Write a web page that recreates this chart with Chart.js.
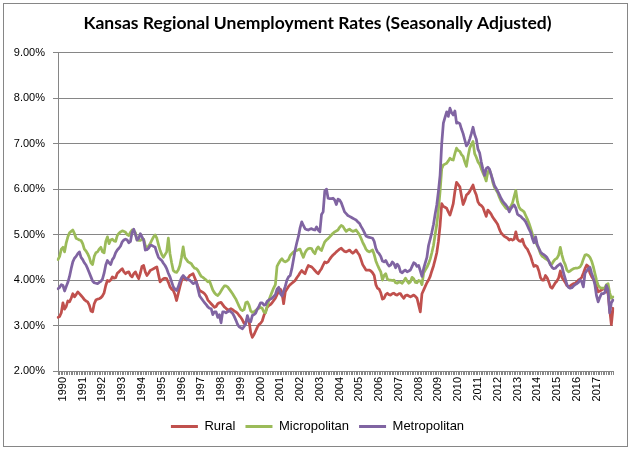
<!DOCTYPE html>
<html><head><meta charset="utf-8">
<script src="https://cdn.jsdelivr.net/npm/chart.js@4"></script>
<style>html,body{margin:0;padding:0;background:#fff}canvas{display:block}</style>
</head><body>
<canvas id="c" width="635" height="452"></canvas>
<script>
const yearLabels = ['1990','1991','1992','1993','1994','1995','1996','1997','1998','1999','2000','2001','2002','2003','2004','2005','2006','2007','2008','2009','2010','2011','2012','2013','2014','2015','2016','2017'];
const yTickLabels = ['2.00%','3.00%','4.00%','5.00%','6.00%','7.00%','8.00%','9.00%'];

const rural = [
3.18,3.2,3.28,3.5,3.36,3.42,3.54,3.52,3.6,3.7,3.63,3.68,
3.74,3.7,3.66,3.62,3.57,3.54,3.52,3.45,3.32,3.3,3.48,3.56,
3.58,3.59,3.61,3.65,3.72,3.88,3.99,3.97,4.0,4.07,4.04,4.05,
4.15,4.18,4.22,4.25,4.18,4.14,4.17,4.18,4.1,4.07,4.14,4.18,
4.1,4.03,4.15,4.3,4.32,4.18,4.1,4.15,4.21,4.23,4.25,4.27,
4.29,4.12,3.96,4.0,4.03,4.04,4.03,3.95,3.85,3.8,3.77,3.68,
3.55,3.7,3.85,3.98,4.07,4.03,4.0,4.05,4.1,4.12,4.14,4.05,
3.96,3.85,3.77,3.75,3.73,3.7,3.65,3.56,3.52,3.48,3.44,3.4,
3.42,3.48,3.5,3.51,3.46,3.41,3.38,3.34,3.35,3.37,3.35,3.32,
3.3,3.27,3.22,3.18,3.12,3.05,3.06,3.16,3.1,2.85,2.74,2.8,
2.88,2.96,3.02,3.05,3.1,3.22,3.3,3.4,3.44,3.46,3.5,3.55,
3.6,3.68,3.75,3.8,3.72,3.48,3.74,3.8,3.86,3.9,3.93,3.96,
3.99,4.05,4.1,4.16,4.21,4.17,4.14,4.24,4.32,4.3,4.29,4.25,
4.21,4.17,4.14,4.2,4.25,4.33,4.4,4.38,4.4,4.46,4.51,4.55,
4.58,4.62,4.65,4.68,4.7,4.66,4.63,4.62,4.64,4.66,4.62,4.59,
4.62,4.66,4.6,4.55,4.45,4.34,4.28,4.22,4.22,4.22,4.2,4.16,
4.1,3.9,3.82,3.8,3.72,3.58,3.6,3.68,3.71,3.68,3.67,3.7,
3.71,3.68,3.67,3.7,3.7,3.64,3.6,3.66,3.67,3.65,3.63,3.65,
3.67,3.64,3.6,3.45,3.3,3.7,3.78,3.86,3.94,4.0,4.08,4.2,
4.31,4.45,4.6,4.85,5.2,5.68,5.62,5.6,5.58,5.5,5.43,5.55,
5.68,5.95,6.15,6.1,6.05,5.85,5.66,5.75,5.87,5.9,5.95,6.02,
6.09,5.96,5.87,5.72,5.66,5.64,5.6,5.5,5.4,5.54,5.5,5.45,
5.38,5.33,5.28,5.22,5.12,5.04,5.0,4.96,4.94,4.92,4.88,4.9,
4.88,4.9,5.06,4.9,4.86,4.85,4.9,4.78,4.72,4.68,4.6,4.52,
4.4,4.3,4.32,4.3,4.2,4.05,4.0,4.0,4.1,4.05,3.96,3.85,
3.82,3.88,3.94,3.98,4.05,4.2,4.06,4.0,3.95,3.88,3.85,3.87,
3.9,3.92,3.93,3.96,4.0,4.02,4.06,4.15,4.25,4.33,4.3,4.15,
4.08,4.02,3.95,3.85,3.74,3.76,3.78,3.8,3.82,3.78,3.7,3.35,
3.02,3.38];

const micropolitan = [
4.45,4.52,4.68,4.72,4.62,4.82,4.95,5.04,5.07,5.1,5.02,4.92,
4.9,4.88,4.87,4.8,4.68,4.64,4.58,4.5,4.38,4.34,4.52,4.6,
4.62,4.68,4.72,4.62,4.6,4.85,4.95,4.8,4.88,4.9,4.86,4.85,
4.98,5.03,5.06,5.08,5.07,5.05,5.0,4.98,5.05,5.1,5.08,5.04,
4.88,4.87,4.87,4.9,4.9,4.76,4.7,4.75,4.8,4.88,4.95,4.99,
4.92,4.78,4.65,4.56,4.5,4.56,4.62,4.92,4.58,4.38,4.21,4.18,
4.17,4.22,4.32,4.5,4.73,4.5,4.45,4.4,4.38,4.36,4.3,4.26,
4.25,4.21,4.14,4.08,4.06,4.03,4.0,3.96,3.98,3.88,3.78,3.72,
3.68,3.66,3.7,3.76,3.82,3.87,3.87,3.85,3.8,3.75,3.7,3.64,
3.58,3.5,3.42,3.35,3.33,3.35,3.5,3.52,3.45,3.32,3.29,3.3,
3.33,3.36,3.38,3.4,3.38,3.3,3.28,3.42,3.55,3.65,3.74,3.83,
3.9,4.3,4.37,4.43,4.47,4.42,4.4,4.42,4.45,4.54,4.58,4.62,
4.64,4.65,4.67,4.68,4.58,4.5,4.6,4.66,4.69,4.7,4.69,4.62,
4.58,4.68,4.73,4.68,4.65,4.75,4.84,4.88,4.91,4.95,4.99,5.03,
5.06,5.08,5.1,5.16,5.2,5.18,5.12,5.07,5.1,5.12,5.09,5.07,
5.08,5.1,5.05,5.0,4.92,4.83,4.76,4.68,4.64,4.62,4.64,4.66,
4.56,4.42,4.33,4.25,4.18,4.0,4.1,4.14,4.02,4.0,4.0,3.99,
4.0,3.94,3.93,3.96,3.95,3.93,3.98,4.04,3.98,3.93,3.96,4.06,
4.03,3.95,3.94,3.99,3.98,3.9,4.15,4.22,4.28,4.36,4.46,4.6,
4.76,5.0,5.22,5.55,5.95,6.45,6.53,6.55,6.57,6.62,6.68,6.65,
6.64,6.78,6.9,6.85,6.83,6.76,6.72,6.6,6.5,6.72,6.9,6.98,
7.05,6.78,6.7,6.6,6.55,6.45,6.36,6.28,6.18,6.38,6.42,6.32,
6.15,6.04,5.98,5.92,5.82,5.74,5.68,5.63,5.58,5.56,5.58,5.62,
5.7,5.84,5.97,5.72,5.6,5.55,5.53,5.5,5.42,5.34,5.25,5.14,
5.02,4.92,4.84,4.76,4.68,4.58,4.52,4.5,4.47,4.45,4.42,4.34,
4.36,4.42,4.46,4.48,4.55,4.72,4.55,4.42,4.34,4.22,4.18,4.2,
4.23,4.25,4.26,4.26,4.27,4.29,4.35,4.46,4.55,4.56,4.54,4.5,
4.42,4.3,4.15,4.0,3.88,3.84,3.82,3.82,3.83,3.9,3.92,3.72,
3.6,3.63];

const metropolitan = [
3.81,3.84,3.9,3.88,3.76,3.86,3.95,4.08,4.25,4.4,4.48,4.52,
4.58,4.62,4.5,4.45,4.38,4.33,4.25,4.16,4.07,3.98,3.94,3.93,
3.92,3.95,3.97,4.02,4.15,4.33,4.43,4.38,4.34,4.45,4.5,4.6,
4.66,4.7,4.75,4.84,4.88,4.9,4.88,4.82,4.85,5.05,5.12,5.0,
4.88,4.92,5.02,4.95,4.88,4.66,4.67,4.7,4.76,4.76,4.74,4.72,
4.6,4.5,4.46,4.43,4.37,4.32,4.25,4.15,4.07,3.96,3.85,3.8,
3.77,3.85,3.96,4.05,4.1,4.06,4.03,4.01,4.0,3.96,3.92,3.94,
3.96,3.8,3.65,3.6,3.55,3.5,3.46,3.41,3.38,3.37,3.24,3.3,
3.3,3.18,3.24,3.06,3.3,3.3,3.28,3.3,3.33,3.3,3.27,3.2,
3.12,3.03,2.97,2.95,2.93,2.98,3.04,3.22,3.1,3.08,3.22,3.24,
3.27,3.36,3.42,3.5,3.5,3.45,3.46,3.53,3.56,3.58,3.6,3.64,
3.68,3.8,3.84,3.7,3.65,3.76,3.86,4.0,4.07,4.1,4.25,4.45,
4.66,4.82,4.96,5.15,5.28,5.2,5.13,5.11,5.1,5.12,5.13,5.11,
5.1,5.17,5.1,5.06,5.44,5.5,5.96,6.0,5.8,5.79,5.79,5.8,
5.76,5.66,5.78,5.76,5.7,5.6,5.5,5.46,5.42,5.4,5.38,5.36,
5.34,5.32,5.28,5.25,5.18,5.12,5.05,4.97,4.95,4.94,4.93,4.92,
4.85,4.7,4.62,4.58,4.52,4.42,4.4,4.43,4.36,4.31,4.33,4.4,
4.36,4.27,4.35,4.3,4.18,4.16,4.2,4.22,4.18,4.2,4.22,4.3,
4.38,4.36,4.3,4.32,4.2,4.08,4.25,4.38,4.5,4.76,4.9,5.05,
5.22,5.45,5.65,5.95,6.3,7.0,7.45,7.58,7.7,7.6,7.78,7.68,
7.63,7.72,7.45,7.46,7.44,7.32,7.22,7.08,6.95,7.0,7.1,7.22,
7.36,7.2,7.1,6.88,6.8,6.6,6.44,6.3,6.45,6.48,6.44,6.32,
6.2,6.08,6.02,5.95,5.88,5.8,5.74,5.69,5.65,5.6,5.5,5.57,
5.62,5.65,5.58,5.45,5.42,5.4,5.36,5.33,5.28,5.2,5.12,5.05,
4.92,4.82,4.95,4.78,4.7,4.62,4.58,4.56,4.53,4.49,4.42,4.34,
4.28,4.25,4.26,4.3,4.33,4.36,4.3,4.15,4.03,3.9,3.84,3.82,
3.83,3.87,3.9,3.92,3.95,4.0,3.96,3.85,4.15,4.2,4.25,4.28,
4.15,4.05,3.9,3.65,3.52,3.62,3.7,3.7,3.72,3.88,3.78,3.28,
3.5,3.56];

// monthly categories, first observation October 1989
const months = [];
for (let i = 0; i < rural.length; i++) {
  const m = (9 + i) % 12;
  const y = 1989 + Math.floor((9 + i) / 12);
  months.push(y + '-' + String(m + 1).padStart(2, '0'));
}

const GRID = '#868686';
const frame = {
  id: 'frame',
  beforeDraw(chart) {
    const ctx = chart.ctx;
    ctx.save();
    ctx.fillStyle = '#fff';
    ctx.fillRect(0, 0, chart.width, chart.height);
    ctx.strokeStyle = GRID;
    ctx.lineWidth = 1;
    ctx.strokeRect(3.5, 3.5, 624, 443);
    ctx.restore();
  }
};

new Chart(document.getElementById('c'), {
  type: 'line',
  plugins: [frame],
  data: {
    labels: months,
    datasets: [
      {label: 'Rural', data: rural, borderColor: '#C0504D', backgroundColor: '#C0504D', order: 3},
      {label: 'Micropolitan', data: micropolitan, borderColor: '#9BBB59', backgroundColor: '#9BBB59', order: 2},
      {label: 'Metropolitan', data: metropolitan, borderColor: '#8064A2', backgroundColor: '#8064A2', order: 1}
    ]
  },
  options: {
    responsive: false,
    animation: false,
    devicePixelRatio: 1,
    elements: {
      line: {borderWidth: 2.75, tension: 0, borderJoinStyle: 'round', borderCapStyle: 'round'},
      point: {radius: 0, hoverRadius: 0}
    },
    layout: {padding: {left: 0, right: 0, top: 0, bottom: 9}},
    plugins: {
      title: {
        display: true,
        text: 'Kansas Regional Unemployment Rates (Seasonally Adjusted)',
        color: '#000',
        font: {family: 'Lato', size: 17.5, weight: 'bold', lineHeight: 1.2},
        padding: {top: 13, bottom: 18.7}
      },
      legend: {
        position: 'bottom',
        labels: {
          boxWidth: 27, boxHeight: 3, padding: 10, color: '#000',
          font: {family: 'Liberation Sans', size: 13},
          sort: (a, b) => a.datasetIndex - b.datasetIndex,
          generateLabels: (chart) => Chart.defaults.plugins.legend.labels.generateLabels(chart).map(l => Object.assign(l, {lineWidth: 0}))
        }
      },
      tooltip: {enabled: false}
    },
    scales: {
      x: {
        type: 'category',
        offset: false,
        ticks: {
          autoSkip: false, maxRotation: 90, minRotation: 90, padding: 2,
          color: '#000', font: {family: 'Liberation Sans', size: 11},
          callback: (v, i) => (i % 12 === 3 ? yearLabels[(i - 3) / 12] : '')
        },
        grid: {drawOnChartArea: false, drawTicks: true, tickLength: 4, color: GRID},
        border: {display: true, color: GRID},
        afterFit: (s) => { s.height = 39; }
      },
      y: {
        min: 2, max: 9,
        ticks: {
          stepSize: 1, padding: 8, color: '#000',
          font: {family: 'Liberation Sans', size: 11},
          callback: (v) => yTickLabels[Math.round(v - 2)]
        },
        grid: {color: GRID, tickLength: 5},
        border: {display: true, color: GRID},
        afterFit: (s) => { s.width = 58; }
      },
      yRight: {
        position: 'right',
        min: 2, max: 9,
        grid: {display: false},
        border: {display: false},
        ticks: {display: false},
        afterFit: (s) => { s.width = 22; }
      }
    }
  }
});
</script>
</body></html>
